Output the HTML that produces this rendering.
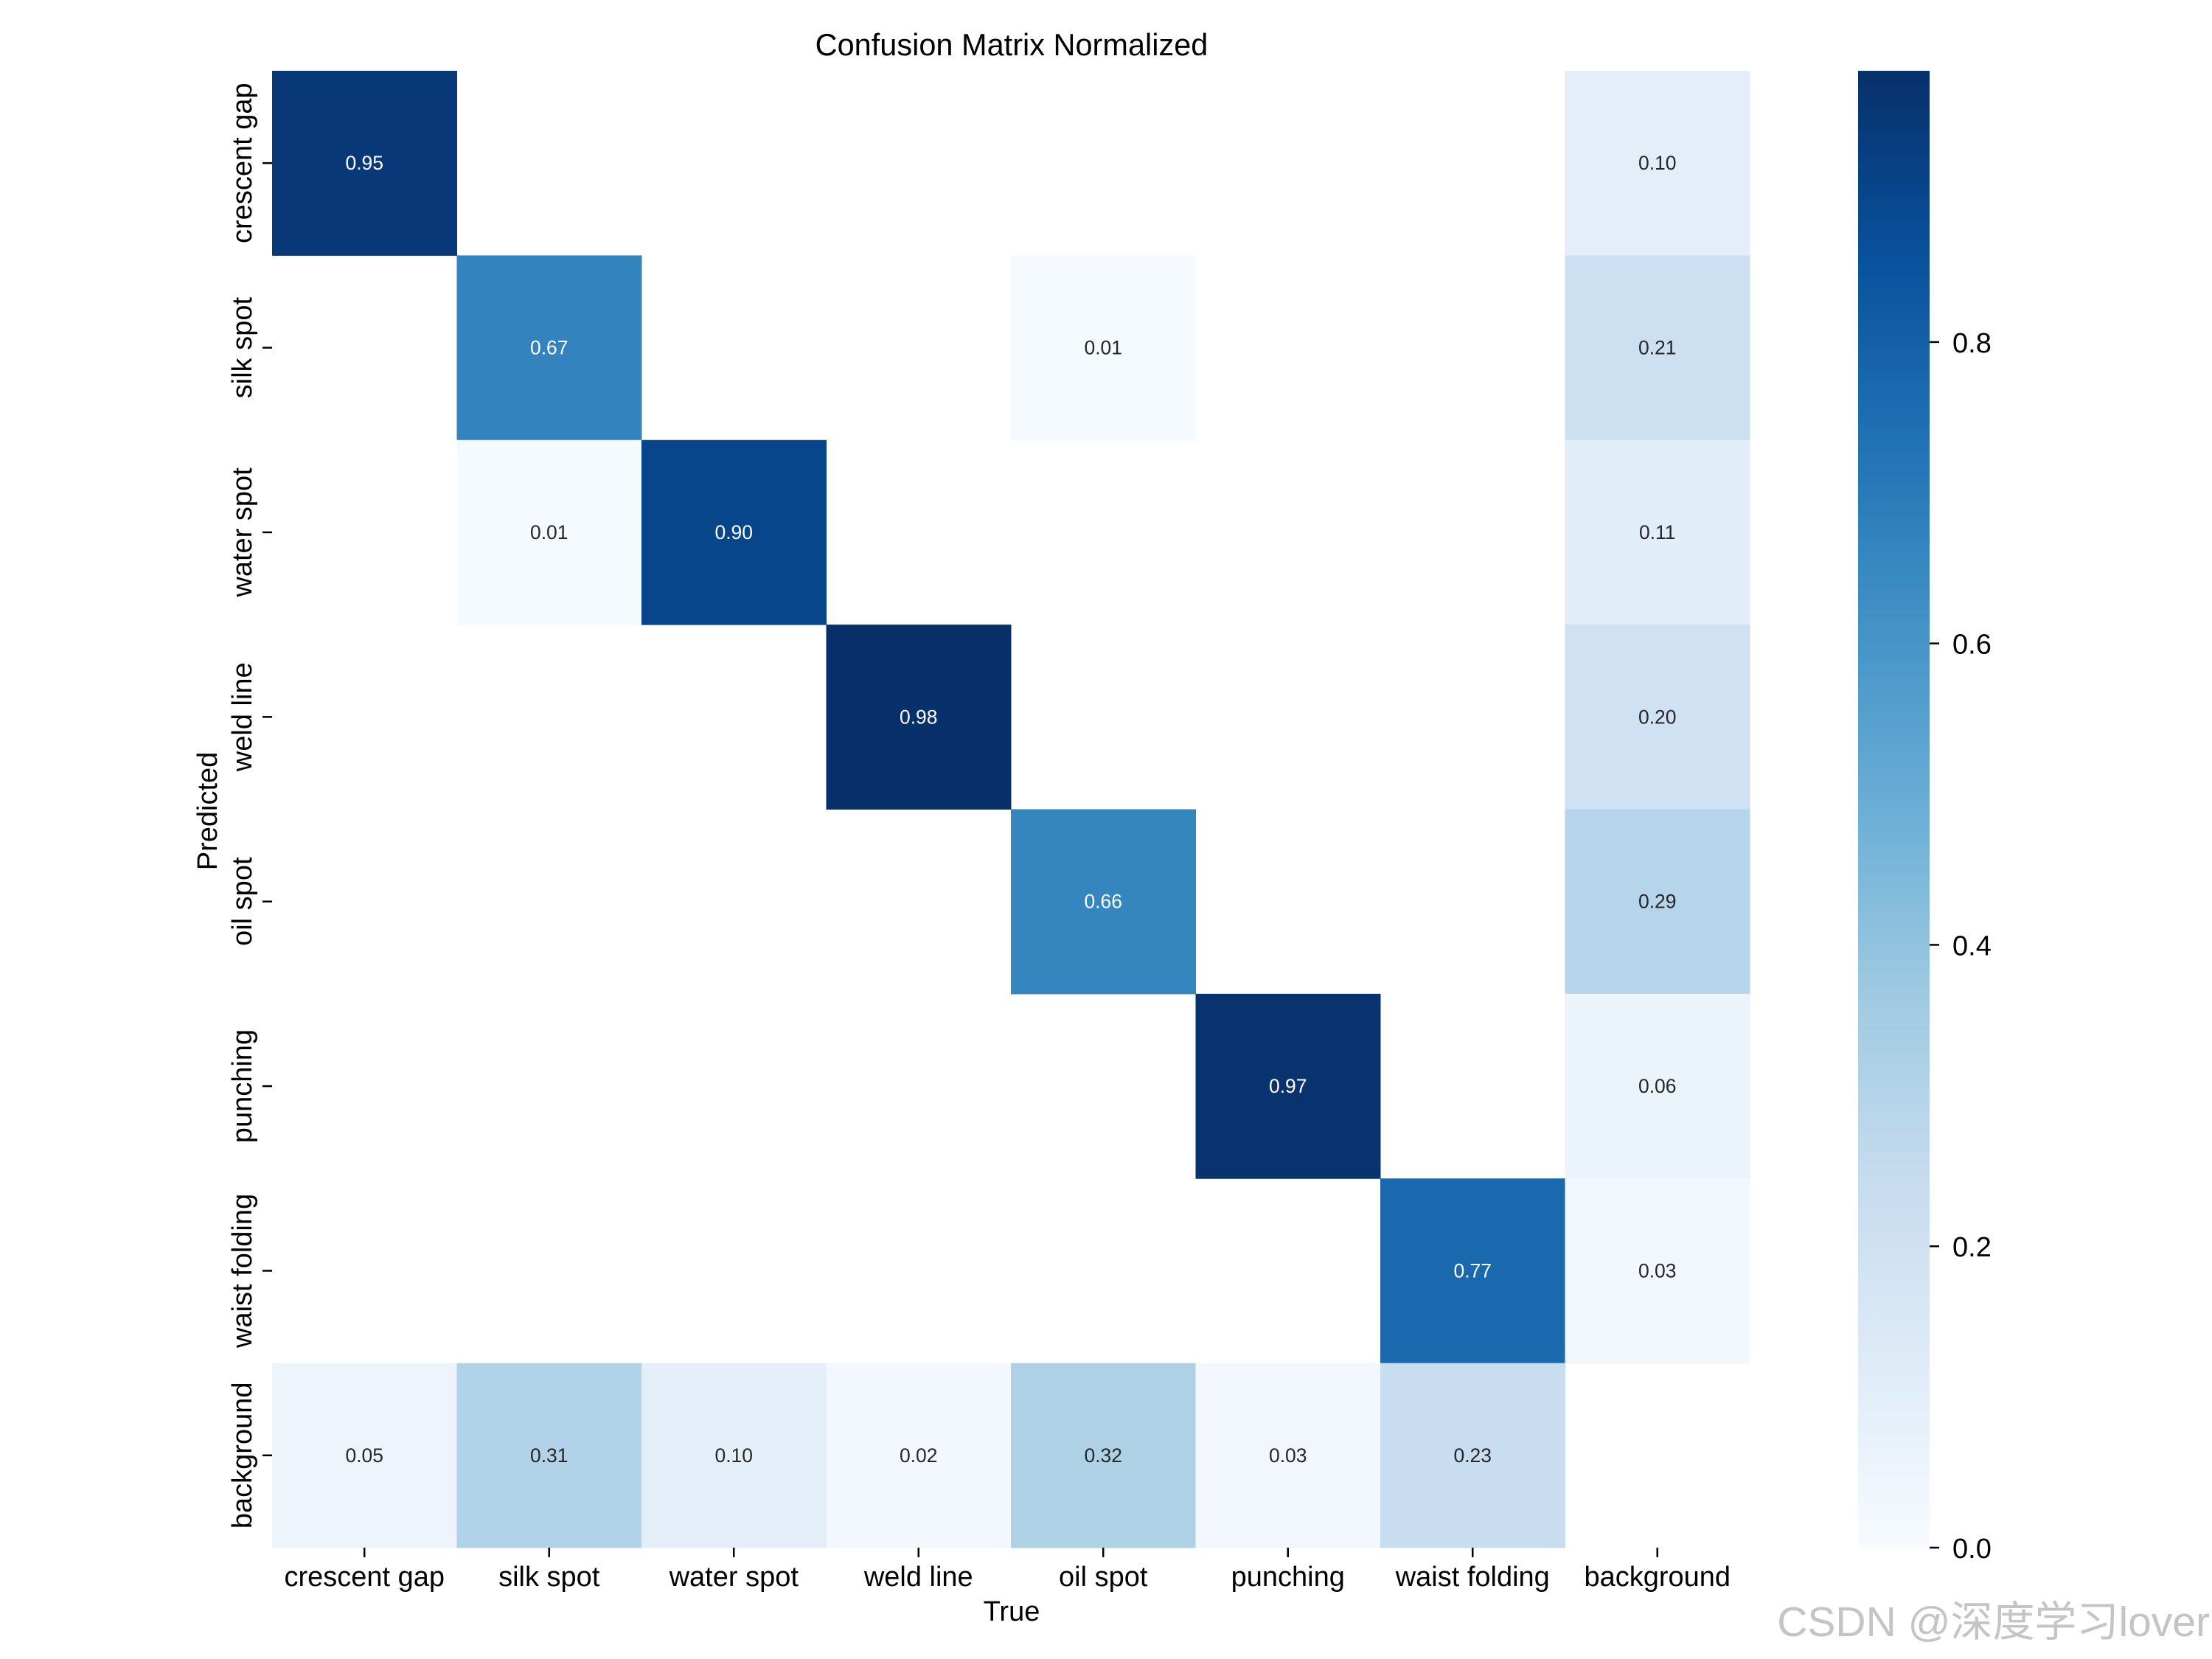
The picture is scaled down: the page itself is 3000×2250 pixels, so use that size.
<!DOCTYPE html>
<html><head><meta charset="utf-8"><style>
html,body{margin:0;padding:0;background:#fff;}
svg{display:block;font-family:"Liberation Sans",Arial,"Noto Sans CJK SC",sans-serif;}
</style></head><body>
<svg id="chart" width="3000" height="2250" viewBox="0 0 3000 2250" xmlns="http://www.w3.org/2000/svg">
<rect width="3000" height="2250" fill="#fff"/>
<text x="1372" y="75" font-size="41.5" text-anchor="middle" fill="#000">Confusion Matrix Normalized</text>
<text x="1372" y="2198" font-size="38" text-anchor="middle" fill="#000">True</text>
<text transform="translate(294,1100) rotate(-90)" font-size="38" text-anchor="middle" fill="#000">Predicted</text>
<g id="cells"></g><g id="xt"></g><g id="yt"></g><g id="cb"></g>
<text x="2997" y="2219" font-size="57" text-anchor="end" fill="#c4c4c4">CSDN @深度学习lover</text>
</svg>
<script>
const categories = ["crescent gap","silk spot","water spot","weld line","oil spot","punching","waist folding","background"];
const row0 = [0.95,0,0,0,0,0,0,0.10];
const row1 = [0,0.67,0,0,0.01,0,0,0.21];
const row2 = [0,0.01,0.90,0,0,0,0,0.11];
const row3 = [0,0,0,0.98,0,0,0,0.20];
const row4 = [0,0,0,0,0.66,0,0,0.29];
const row5 = [0,0,0,0,0,0.97,0,0.06];
const row6 = [0,0,0,0,0,0,0.77,0.03];
const row7 = [0.05,0.31,0.10,0.02,0.32,0.03,0.23,0];
const matrix = [row0,row1,row2,row3,row4,row5,row6,row7];
const cbTicks = [0.0,0.2,0.4,0.6,0.8];
const vmax = 0.98;

const NS="http://www.w3.org/2000/svg";
const L=369,R=2373,T=96,B=2099;
const n=categories.length, cw=(R-L)/n, ch=(B-T)/n;
const xs=i=>L+i*cw, ys=j=>T+j*ch;
const stops=["#f7fbff","#deebf7","#c6dbef","#9ecae1","#6baed6","#4292c6","#2171b5","#08519c","#08306b"].map(h=>[1,3,5].map(k=>parseInt(h.substr(k,2),16)));
function blues(t){t=Math.max(0,Math.min(1,t));const p=t*8,i=Math.min(7,Math.floor(p)),f=p-i;return stops[i].map((c,k)=>Math.round(c+(stops[i+1][k]-c)*f));}
function mk(tag,attrs,parent,txt){const e=document.createElementNS(NS,tag);for(const k in attrs)e.setAttribute(k,attrs[k]);if(txt!==undefined)e.textContent=txt;parent.appendChild(e);return e;}
const cells=document.getElementById('cells');
matrix.forEach((row,j)=>row.forEach((v,i)=>{
  if(v<0.005)return;
  const c=blues(v/vmax);
  const r=mk('rect',{x:xs(i),y:ys(j),width:cw+0.5,height:ch+0.5,fill:`rgb(${c})`},cells);
  
  
  const lum=(0.2126*c[0]+0.7152*c[1]+0.0722*c[2])/255;
  const t=mk('text',{x:xs(i)+cw/2,y:ys(j)+ch/2+9,'font-size':26.5,'text-anchor':'middle',fill:lum<0.62?'#fff':'#262626'},cells,v.toFixed(2));
  
  
}));
const xt=document.getElementById('xt'),yt=document.getElementById('yt');
categories.forEach((c,i)=>{
  const cx=xs(i)+cw/2;
  mk('line',{x1:cx,x2:cx,y1:B,y2:B+13,stroke:'#000','stroke-width':2.5},xt);
  const t=mk('text',{x:cx,y:2151,'font-size':38,'text-anchor':'middle',fill:'#000'},xt,c);
  
  
  const cy=ys(i)+ch/2;
  mk('line',{x1:L-13,x2:L,y1:cy,y2:cy,stroke:'#000','stroke-width':2.5},yt);
  const u=mk('text',{transform:`translate(341,${cy}) rotate(-90)`,'font-size':38,'text-anchor':'middle',fill:'#000'},yt,c);
  
  
});
const cb=document.getElementById('cb');
const CL=2520,CR=2617;
const defs=mk('defs',{},cb);
const g=mk('linearGradient',{id:'bg',x1:0,y1:1,x2:0,y2:0},defs);
stops.forEach((s,k)=>mk('stop',{offset:k/8,'stop-color':`rgb(${s})`},g));
const bar=mk('rect',{x:CL,y:T,width:CR-CL,height:B-T,fill:'url(#bg)'},cb);


const cbY=v=>B-(v/vmax)*(B-T);
cbTicks.forEach(v=>{
  const y=cbY(v);
  mk('line',{x1:CR,x2:CR+13,y1:y,y2:y,stroke:'#000','stroke-width':2.5},cb);
  const t=mk('text',{x:CR+31,y:y+14,'font-size':38,fill:'#000'},cb,v.toFixed(1));
  
  
});
</script>
</body></html>
